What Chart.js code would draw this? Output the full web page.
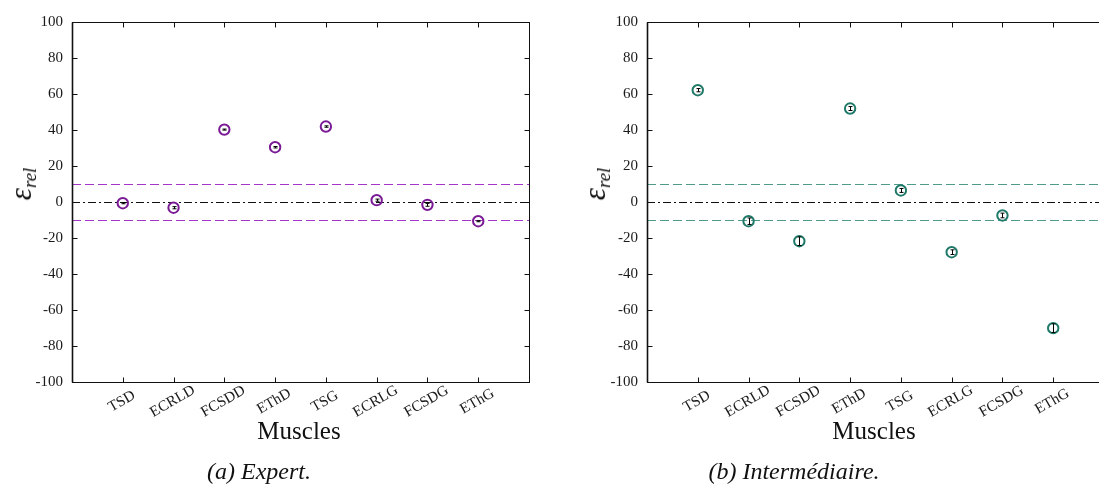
<!DOCTYPE html>
<html lang="fr">
<head>
<meta charset="UTF-8">
<title>Erreur relative par muscle</title>
<script src="https://cdn.jsdelivr.net/npm/chart.js"></script>
<style>
body {
    margin: 0;
    width: 1099px;
    height: 491px;
    overflow: hidden;
    background: #fff;
    position: relative;
    font-family: 'Liberation Serif', 'DejaVu Serif', serif;
    color: #111;
}
.panel { position: absolute; top: 0; }
.ytitle {
    position: absolute;
    top: 184px;
    font-style: italic;
    font-size: 31px;
    white-space: nowrap;
    transform: translate(-50%, -50%) rotate(-90deg);
}
.ytitle sub { font-size: 19px; vertical-align: -5px; }
.xtitle {
    position: absolute;
    top: 431px;
    font-size: 25px;
    transform: translate(-50%, -50%);
}
.caption {
    position: absolute;
    top: 471px;
    font-style: italic;
    font-size: 24px;
    white-space: nowrap;
    transform: translate(-50%, -50%);
}
</style>
</head>
<body>

<canvas id="chartA" class="panel" width="545" height="420" style="left:0px"></canvas>
<canvas id="chartB" class="panel" width="545" height="420" style="left:575px"></canvas>

<div class="ytitle" style="left:22px">ε<sub>rel</sub></div>
<div class="ytitle" style="left:596px">ε<sub>rel</sub></div>
<div class="xtitle" style="left:299px">Muscles</div>
<div class="xtitle" style="left:874px">Muscles</div>
<div class="caption" style="left:259px">(a) Expert.</div>
<div class="caption" style="left:794px">(b) Intermédiaire.</div>

<script>
// donnees
const muscles = ['TSD', 'ECRLD', 'FCSDD', 'EThD', 'TSG', 'ECRLG', 'FCSDG', 'EThG'];
const expertErr = [-0.4, -2.9, 40.5, 30.7, 42.2, 1.3, -1.3, -10.4];
const expertSd = [0.3, 0.6, 0.3, 0.4, 0.4, 0.6, 0.8, 0.3];
const interErr = [62.4, -10.4, -21.5, 52.2, 6.7, -27.6, -7.2, -69.8];
const interSd = [0.9, 1.8, 2.4, 1.1, 1.1, 1.3, 1.3, 2.4];
const yTicks = [-100, -80, -60, -40, -20, 0, 20, 40, 60, 80, 100];
const tolerance = 10;

const serif = "'Liberation Serif', 'DejaVu Serif', serif";

// cadre, graduations vers l'interieur, etiquettes inclinees et barres d'erreur
const cadrePlugin = {
    id: 'cadre',
    afterDatasetsDraw(chart, args, opts) {
        const ctx = chart.ctx;
        const area = chart.chartArea;
        const xs = chart.scales.x;
        const ys = chart.scales.y;

        ctx.save();
        // barres d'erreur
        ctx.strokeStyle = '#000';
        ctx.lineWidth = 1;
        opts.values.forEach((v, i) => {
            const x = Math.round(xs.getPixelForValue(i + 1)) + 0.5;
            const y1 = ys.getPixelForValue(v - opts.sd[i]);
            const y2 = ys.getPixelForValue(v + opts.sd[i]);
            ctx.beginPath();
            ctx.moveTo(x, y1);
            ctx.lineTo(x, y2);
            ctx.moveTo(x - 2, y1);
            ctx.lineTo(x + 2, y1);
            ctx.moveTo(x - 2, y2);
            ctx.lineTo(x + 2, y2);
            ctx.stroke();
        });

        // cadre
        ctx.strokeStyle = '#111';
        ctx.lineWidth = 1;
        const L = Math.floor(area.left) + 0.5, R = Math.floor(area.right) + 0.5;
        const T = Math.floor(area.top) + 0.5, B = Math.floor(area.bottom) + 0.5;
        ctx.strokeRect(L, T, R - L, B - T);
        ctx.lineWidth = 1.6;
        ctx.beginPath();
        ctx.moveTo(L, T);
        ctx.lineTo(L, B);
        ctx.stroke();

        ctx.lineWidth = 1;
        ctx.beginPath();
        yTicks.forEach(t => {
            const y = Math.floor(ys.getPixelForValue(t)) + 0.5;
            ctx.moveTo(L, y); ctx.lineTo(L + 5, y);
            ctx.moveTo(R, y); ctx.lineTo(R - 5, y);
        });
        muscles.forEach((m, i) => {
            const x = Math.round(xs.getPixelForValue(i + 1)) + 0.5;
            ctx.moveTo(x, B); ctx.lineTo(x, B - 5);
            ctx.moveTo(x, T); ctx.lineTo(x, T + 5);
        });
        ctx.stroke();

        // noms des muscles
        ctx.fillStyle = '#1a1a1a';
        ctx.font = '15px ' + serif;
        ctx.textAlign = 'center';
        ctx.textBaseline = 'middle';
        muscles.forEach((m, i) => {
            const x = xs.getPixelForValue(i + 1);
            ctx.save();
            ctx.translate(x - 1, area.bottom + 19);
            ctx.rotate(-Math.PI / 6);
            ctx.fillText(m, 0, 0);
            ctx.restore();
        });
        ctx.restore();
    }
};

function tracer(id, values, sd, couleur, couleurBande) {
    const points = values.map((v, i) => ({ x: i + 1, y: v }));
    const ligne = y => [{ x: 0, y: y }, { x: muscles.length + 1, y: y }];

    return new Chart(document.getElementById(id), {
        type: 'scatter',
        data: {
            datasets: [
                {
                    data: points,
                    pointStyle: 'circle',
                    pointRadius: 5.2,
                    pointBorderWidth: 2,
                    pointBorderColor: couleur,
                    pointBackgroundColor: 'rgba(0,0,0,0)'
                },
                {
                    type: 'line', data: ligne(tolerance), borderColor: couleurBande,
                    borderWidth: 1, borderDash: [9, 4], pointRadius: 0
                },
                {
                    type: 'line', data: ligne(-tolerance), borderColor: couleurBande,
                    borderWidth: 1, borderDash: [9, 4], pointRadius: 0
                },
                {
                    type: 'line', data: ligne(0), borderColor: '#111',
                    borderWidth: 1, borderDash: [8, 3, 2, 3], pointRadius: 0
                }
            ]
        },
        options: {
            responsive: false,
            animation: false,
            events: [],
            layout: { padding: { top: 22.5, right: 16, left: 0, bottom: 0 } },
            plugins: {
                legend: { display: false },
                tooltip: { enabled: false },
                cadre: { values: values, sd: sd }
            },
            scales: {
                x: {
                    type: 'linear',
                    min: 0,
                    max: muscles.length + 1,
                    grid: { display: false, drawTicks: false },
                    border: { display: false },
                    ticks: { display: false },
                    afterFit: s => { s.height = 37.5; }
                },
                y: {
                    min: -100,
                    max: 100,
                    grid: { display: false, drawTicks: false },
                    border: { display: false },
                    ticks: {
                        stepSize: 20,
                        padding: 9,
                        color: '#1a1a1a',
                        font: { family: serif, size: 15 },
                        callback: v => String(v)
                    },
                    afterFit: s => { s.width = 72; }
                }
            }
        },
        plugins: [cadrePlugin]
    });
}

tracer('chartA', expertErr, expertSd, '#7a1b95', '#a534c8');
tracer('chartB', interErr, interSd, '#1f7a69', '#4f9b8a');
</script>
</body>
</html>
